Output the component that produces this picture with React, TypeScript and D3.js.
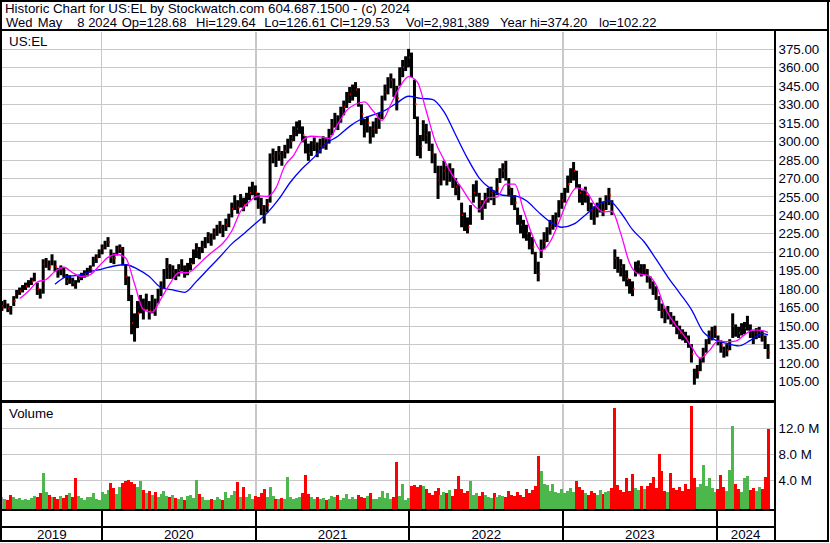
import React from "react";
import * as d3 from "d3";

// ---------- DATA (weekly) ----------
const startDate = new Date(2019, 4, 9); // first weekly bar

const weeklyHigh = [
  170, 171, 168, 166, 174, 179, 181, 183, 185, 187,
  189, 193, 185, 180, 204, 205, 203, 208, 203, 197,
  199, 197, 192, 191, 189, 187, 191, 193, 195, 197,
  199, 206, 208, 212, 216, 219, 222, 212, 209, 215,
  216, 214, 200, 190, 175, 160, 170, 175, 172, 176,
  170, 175, 172, 180, 186, 196, 205, 200, 199, 196,
  200, 204, 199, 201, 205, 212, 217, 214, 219, 222,
  226, 225, 229, 232, 235, 232, 237, 241, 250, 256,
  252, 257, 254, 258, 263, 267, 264, 258, 254, 248,
  253, 290, 294, 292, 296, 292, 297, 302, 305, 312,
  316, 317, 312, 304, 298, 300, 303, 299, 302, 304,
  303, 310, 318, 323, 321, 328, 333, 340, 344, 346,
  348, 343, 330, 318, 320, 312, 316, 319, 323, 337,
  346, 352, 355, 351, 345, 360, 366, 369, 375, 372,
  350, 320, 305, 317, 314, 308, 298, 290, 280, 280,
  284, 280, 282, 278, 270, 265, 250, 242, 238, 248,
  265, 268, 258, 252, 258, 262, 263, 260, 270, 278,
  282, 284, 270, 262, 256, 246, 240, 236, 232, 226,
  222, 210, 202, 220, 226, 230, 236, 240, 242, 252,
  258, 262, 272, 278, 283, 276, 265, 260, 263, 256,
  250, 247, 250, 254, 251, 256, 262, 252, 212, 206,
  204, 200, 195, 188, 186, 202, 203, 200, 200, 196,
  190, 186, 182, 174, 168, 164, 166, 161, 158, 154,
  150, 147, 145, 142, 135, 115, 118, 124, 132, 139,
  146, 149, 150, 142, 138, 133, 135, 139, 160, 151,
  149, 152, 153, 158, 151, 146, 148, 149, 146, 142,
  135,
];

const weeklyLow = [
  162, 164, 161, 159, 166, 172, 175, 177, 179, 181,
  183, 186, 175, 172, 176, 197, 195, 199, 194, 189,
  191, 189, 183, 184, 182, 180, 185, 187, 189, 190,
  193, 198, 201, 205, 208, 212, 214, 201, 200, 207,
  209, 199, 183, 170, 143, 137, 148, 160, 155, 163,
  155, 160, 158, 168, 174, 180, 188, 188, 188, 187,
  190, 194, 189, 191, 195, 200, 205, 204, 209, 213,
  217, 215, 220, 223, 225, 222, 227, 230, 238, 244,
  241, 246, 243, 247, 252, 256, 252, 245, 240, 233,
  242, 250, 282, 279, 284, 280, 286, 290, 294, 300,
  304, 306, 299, 290, 284, 288, 292, 287, 290, 294,
  293, 298, 305, 311, 309, 315, 321, 327, 331, 333,
  336, 328, 313, 303, 307, 298, 303, 306, 310, 318,
  333, 338, 343, 336, 325, 345, 352, 357, 360, 352,
  318, 288, 286, 300, 298, 292, 282, 274, 253, 264,
  268, 264, 267, 262, 256, 252, 230, 227, 225, 232,
  250, 255, 242, 236, 245, 250, 252, 248, 256, 266,
  270, 268, 255, 248, 244, 232, 225, 221, 219, 212,
  208, 192, 186, 205, 212, 218, 224, 228, 230, 238,
  245, 250, 258, 266, 268, 262, 250, 248, 250, 243,
  236, 232, 238, 242, 239, 244, 248, 240, 196, 193,
  190, 186, 182, 176, 174, 190, 192, 190, 191, 185,
  180, 175, 171, 162, 156, 152, 155, 151, 149, 143,
  139, 138, 136, 132, 120, 102, 107, 113, 120, 128,
  135, 138, 140, 134, 128, 124, 125, 130, 140, 141,
  140, 142, 143, 146, 140, 135, 139, 140, 137, 131,
  123,
];

const weeklyClose = [
  166, 168, 164, 162, 170, 176, 178, 180, 182, 184,
  186, 190, 180, 176, 200, 201, 198, 204, 198, 192,
  196, 193, 186, 188, 185, 183, 188, 190, 192, 194,
  196, 203, 205, 209, 213, 216, 218, 206, 205, 212,
  213, 205, 190, 178, 152, 145, 160, 168, 163, 170,
  162, 168, 165, 175, 180, 188, 198, 192, 194, 190,
  195, 199, 193, 196, 200, 206, 212, 208, 214, 218,
  222, 220, 225, 228, 230, 226, 232, 236, 245, 250,
  246, 252, 248, 252, 258, 262, 258, 252, 246, 240,
  248, 282, 288, 284, 290, 286, 292, 296, 300, 306,
  310, 312, 305, 296, 290, 295, 298, 292, 296, 300,
  298, 305, 312, 318, 315, 322, 328, 335, 338, 340,
  342, 336, 322, 310, 315, 304, 310, 314, 318, 330,
  340, 345, 350, 344, 335, 352, 360, 364, 368, 362,
  330, 300, 296, 310, 305, 300, 290, 282, 268, 272,
  276, 272, 275, 268, 263, 258, 240, 234, 230, 240,
  258, 262, 250, 244, 252, 255, 258, 253, 262, 272,
  276, 274, 262, 255, 250, 240, 232, 228, 225, 218,
  214, 200, 192, 212, 218, 225, 230, 234, 236, 245,
  252, 256, 265, 272, 276, 270, 258, 254, 257, 250,
  244, 240, 245, 248, 244, 250, 256, 246, 205, 200,
  198, 193, 188, 182, 180, 196, 198, 195, 196, 190,
  185, 180, 176, 168, 162, 158, 160, 156, 153, 148,
  144, 142, 140, 137, 127, 106, 112, 118, 126, 134,
  140, 144, 145, 138, 134, 128, 130, 135, 150, 146,
  144, 147, 148, 152, 146, 140, 144, 145, 141, 137,
  128,
];

// volume in millions of shares
const weeklyVolumeM = [
  1.5, 1.2, 1.0, 1.8, 1.4, 1.1, 1.3, 1.0, 1.2, 0.9,
  1.3, 1.6, 1.5, 2.0, 5.2, 2.2, 1.8, 1.4, 1.5, 1.2,
  1.6, 1.3, 1.8, 2.0, 1.5, 4.3, 1.6, 1.3, 1.0, 1.5,
  1.4, 2.1, 1.2, 1.0, 2.2, 1.9, 2.5, 3.6, 2.8, 1.9,
  3.0, 3.6, 3.9, 4.0, 3.8, 3.5, 3.0, 3.9, 2.5, 2.0,
  2.4, 1.8, 2.2, 1.5, 1.9, 2.3, 1.6, 1.5, 1.8, 1.3,
  1.2, 1.4, 1.0, 1.6, 1.8, 1.3, 4.1, 1.9, 1.5, 1.0,
  0.9, 1.1, 1.0, 1.4, 1.2, 1.0, 2.2, 1.3, 1.8, 2.4,
  3.7, 1.5, 2.9, 1.4, 1.9, 1.2, 1.6, 1.4, 2.0, 2.6,
  1.5, 3.0, 1.6, 1.2, 1.1, 1.3, 1.2, 4.5, 1.4, 1.1,
  1.3, 1.5, 2.0, 4.8, 1.9, 1.4, 1.2, 1.5, 1.1, 1.3,
  1.0, 1.2, 1.6, 1.4, 1.8, 1.0, 1.3, 1.9, 1.1, 1.4,
  1.2, 1.7, 1.5, 1.3, 1.6, 2.1, 1.2, 1.1, 1.4, 2.3,
  1.3, 2.0, 1.2, 1.5, 6.8, 1.6, 3.4, 1.0, 1.3, 3.2,
  3.3, 3.0, 3.3, 3.1, 2.6, 2.0, 1.7, 2.4, 2.8, 1.8,
  2.2, 2.0, 2.5, 1.6, 2.7, 4.7, 2.6, 2.0, 2.3, 3.9,
  1.8, 2.0, 1.6, 2.2, 1.8, 1.5, 1.3, 2.0, 1.4, 1.8,
  1.6, 1.5, 2.4, 1.7, 1.6, 2.2, 1.8, 1.4, 2.6, 2.0,
  2.5, 3.2, 7.7, 5.5, 3.5, 3.3, 2.4, 3.4, 2.2, 2.0,
  2.6, 2.0, 2.4, 2.8, 2.2, 3.9, 3.0, 2.5, 2.0, 1.8,
  2.3, 2.0, 1.7, 2.5, 1.9, 2.2, 2.4, 2.8, 15.1, 3.3,
  2.5, 2.2, 4.3, 2.4, 5.0, 2.8, 2.5, 3.2, 2.6, 3.2,
  3.6, 4.5, 2.8, 8.0, 5.5, 2.4, 2.2, 5.2, 2.8, 2.5,
  3.0, 2.4, 3.4, 2.6, 15.5, 4.4, 3.0, 3.4, 6.3, 3.2,
  4.3, 2.8, 2.2, 2.6, 4.8, 2.9, 2.4, 5.6, 12.3, 3.4,
  2.6, 2.2, 4.4, 4.6, 2.5, 2.8, 2.4, 3.0, 2.6, 4.5,
  11.9,
];

// short moving average (magenta), sampled every 3 weeks from week 6, plus week 260
const maFastWeeks = d3.range(6, 259, 3).concat([260]);
const maFast = [
  172, 178, 185.5, 187.5, 194, 197.5, 193, 190, 191.5, 198.5,
  205.5, 208, 205, 184, 163, 161, 172, 184, 193, 193,
  198, 205, 211, 217, 227, 243, 251, 255.5, 255, 262,
  280, 288.5, 300.5, 304, 303.5, 302, 314, 325, 330, 332,
  324.5, 317, 330, 344, 352.5, 348, 324.5, 300, 285, 272,
  262, 251, 244.5, 254, 254.5, 265, 265, 244, 223.5, 211,
  218, 234, 252, 262, 260, 249, 242.5, 243, 225, 201,
  192, 191, 183, 164.5, 152.5, 143.5, 133, 123.5, 129.5, 137.5,
  137, 137.5, 142.5, 146.5, 146, 144.5,
];

// long moving average (blue), sampled every 4 weeks from week 18, plus week 260
const maSlowWeeks = d3.range(18, 259, 4).concat([260]);
const maSlow = [
  183.6, 189.8, 191, 194, 196, 198.5, 199.5, 196, 190, 181,
  179, 177, 186, 196, 206, 216.5, 224.5, 233, 241.5, 253,
  267, 278, 287, 298, 304, 312, 318, 321.3, 325, 331,
  336.5, 334.8, 334, 324, 305, 286, 270, 261, 256, 255.5,
  251.5, 242.5, 234.5, 230, 232.5, 240, 248, 251.5, 242, 228,
  218, 204, 189.5, 176.5, 163, 145, 138.5, 135.5, 133.5, 138,
  143.5, 142.5,
];

const priceTicks = [105, 120, 135, 150, 165, 180, 195, 210, 225, 240, 255, 270, 285, 300, 315, 330, 345, 360, 375];
const volumeTicks = [4, 8, 12];
const yearLabels = ["2019", "2020", "2021", "2022", "2023", "2024"];
const yearStarts = [2020, 2021, 2022, 2023, 2024];

const titleLine = "Historic Chart for US:EL by Stockwatch.com 604.687.1500 - (c) 2024";
const quoteFields = ["Wed", "May", "8 2024", "Op=128.68", "Hi=129.64", "Lo=126.61", "Cl=129.53", "Vol=2,981,389", "Year hi=374.20", "lo=102.22"];
const quoteFieldX = [6, 37.7, 77.3, 121.7, 196, 264.3, 330, 405.7, 500, 599];

// ---------- LAYOUT ----------
const W = 830;
const H = 543;
const plotLeft = 2;
const axisX = 774.5;
const priceTop = 31.5;
const priceBottom = 400;
const volTop = 403.5;
const volBottom = 509;
const FONT = "'Liberation Sans', Arial, sans-serif";
const TXT = "#000018";
const GRID = "#c8c8c8";
const GREEN = "#4cb84c";
const RED = "#ff0000";

export default function App() {
  const x = d3
    .scaleTime()
    .domain([new Date(2020, 0, 1), new Date(2024, 0, 1)])
    .range([101.7, 716.7]);
  const yP = d3.scaleLinear().domain([105, 375]).range([381, 48.9]);
  const yV = d3.scaleLinear().domain([0, 12]).range([506.3, 428.3]);

  const weeks = weeklyClose.map((c, i) => ({
    date: d3.timeDay.offset(startDate, 7 * i),
    high: weeklyHigh[i],
    low: weeklyLow[i],
    close: c,
    vol: weeklyVolumeM[i],
    prev: i > 0 ? weeklyClose[i - 1] : c,
  }));

  const fastPts = maFast.map((v, k) => ({ date: d3.timeDay.offset(startDate, 7 * maFastWeeks[k]), v }));
  const slowPts = maSlow.map((v, k) => ({ date: d3.timeDay.offset(startDate, 7 * maSlowWeeks[k]), v }));
  const maLine = d3
    .line<{ date: Date; v: number }>()
    .x((d) => x(d.date))
    .y((d) => yP(d.v))
    .curve(d3.curveMonotoneX);

  const boundaries = yearStarts.map((yr) => x(new Date(yr, 0, 1)));
  const edges = [plotLeft, ...boundaries, axisX];
  const labelX = yearLabels.map((_, i) => (edges[i] + edges[i + 1]) / 2);

  return (
    <svg
      width={W}
      height={H}
      viewBox={`0 0 ${W} ${H}`}
      style={{ position: "absolute", left: 0, top: 0, background: "#fff" }}
      fontFamily={FONT}
    >
      <defs>
        <clipPath id="priceClip">
          <rect x={plotLeft} y={priceTop} width={axisX - 1 - plotLeft} height={priceBottom - priceTop} />
        </clipPath>
        <clipPath id="volClip">
          <rect x={plotLeft} y={volTop} width={axisX - 1 - plotLeft} height={volBottom - volTop} />
        </clipPath>
      </defs>
      <rect x={0} y={0} width={W} height={H} fill="#fff" />

      {/* header */}
      <text x={5} y={13} fontSize={13.33} fill={TXT} textLength={405} lengthAdjust="spacing">
        {titleLine}
      </text>
      {quoteFields.map((t, i) => (
        <text key={t} x={quoteFieldX[i]} y={27} fontSize={13} fill={TXT}>
          {t}
        </text>
      ))}

      {/* grid */}
      <g shapeRendering="crispEdges">
        {priceTicks.map((t) => (
          <line key={t} x1={plotLeft} x2={axisX - 1} y1={Math.round(yP(t)) + 0.5} y2={Math.round(yP(t)) + 0.5} stroke={GRID} strokeWidth={1.5} />
        ))}
        {boundaries.map((bx, i) => (
          <line key={i} x1={bx} x2={bx} y1={priceTop} y2={priceBottom} stroke={GRID} strokeWidth={1.5} />
        ))}
        {volumeTicks.map((t) => (
          <line key={t} x1={plotLeft} x2={axisX - 1} y1={Math.round(yV(t)) + 0.5} y2={Math.round(yV(t)) + 0.5} stroke={GRID} strokeWidth={1.5} />
        ))}
        {boundaries.map((bx, i) => (
          <line key={"v" + i} x1={bx} x2={bx} y1={volTop} y2={volBottom} stroke={GRID} strokeWidth={1.5} />
        ))}
      </g>

      {/* price bars */}
      <g clipPath="url(#priceClip)">
        {weeks.map((d, i) => {
          const cx = x(d.date);
          return (
            <g key={i}>
              <rect x={cx - 1.5} y={yP(d.high)} width={3} height={Math.max(1, yP(d.low) - yP(d.high))} fill="#000" />
              {i % 2 === 0 ? <rect x={cx + 0.5} y={yP(d.close) - 1} width={1.5} height={2} fill={RED} /> : null}
            </g>
          );
        })}
        <path d={maLine(slowPts) || ""} fill="none" stroke="#0000ff" strokeWidth={1.3} />
        <path d={maLine(fastPts) || ""} fill="none" stroke="#ff00ff" strokeWidth={1.3} />
      </g>

      {/* volume bars */}
      <g clipPath="url(#volClip)" shapeRendering="crispEdges">
        {weeks.map((d, i) => {
          const cx = x(d.date);
          const col = d.close > d.prev ? GREEN : d.close < d.prev ? RED : "#a0a0a0";
          return <rect key={i} x={cx - 1.5} y={yV(d.vol)} width={3} height={volBottom - yV(d.vol)} fill={col} />;
        })}
      </g>

      {/* panel labels */}
      <text x={9} y={46} fontSize={13.33} fill={TXT}>
        US:EL
      </text>
      <text x={9} y={418} fontSize={13.33} fill={TXT}>
        Volume
      </text>

      {/* right axis labels */}
      {priceTicks.map((t) => (
        <text key={t} x={778.5} y={yP(t) + 5} fontSize={13.33} fill={TXT}>
          {t.toFixed(2)}
        </text>
      ))}
      {volumeTicks.map((t) => (
        <text key={t} x={778.5} y={yV(t) + 5} fontSize={13.33} fill={TXT}>
          {t.toFixed(1) + " M"}
        </text>
      ))}

      {/* year labels */}
      {yearLabels.map((t, i) => (
        <text key={t} x={labelX[i]} y={539} fontSize={13.33} fill={TXT} textAnchor="middle">
          {t}
        </text>
      ))}

      {/* frame lines */}
      <g stroke="#000" shapeRendering="crispEdges">
        <line x1={0} x2={W} y1={0.75} y2={0.75} strokeWidth={1.5} />
        <line x1={1} x2={1} y1={0} y2={542} strokeWidth={2} />
        <line x1={828} x2={828} y1={0} y2={542} strokeWidth={2} />
        <line x1={0} x2={829} y1={30.3} y2={30.3} strokeWidth={2} />
        <line x1={0} x2={axisX} y1={400.8} y2={400.8} strokeWidth={1.6} />
        <line x1={0} x2={axisX} y1={402.8} y2={402.8} strokeWidth={1} />
        <line x1={0} x2={axisX} y1={510} y2={510} strokeWidth={2} />
        <line x1={0} x2={axisX} y1={527} y2={527} strokeWidth={2} />
        <line x1={0} x2={829} y1={541} y2={541} strokeWidth={2} />
        <line x1={axisX} x2={axisX} y1={30} y2={542} strokeWidth={2} />
        {boundaries.map((bx, i) => (
          <line key={i} x1={bx} x2={bx} y1={510} y2={541} strokeWidth={2} />
        ))}
      </g>
    </svg>
  );
}
